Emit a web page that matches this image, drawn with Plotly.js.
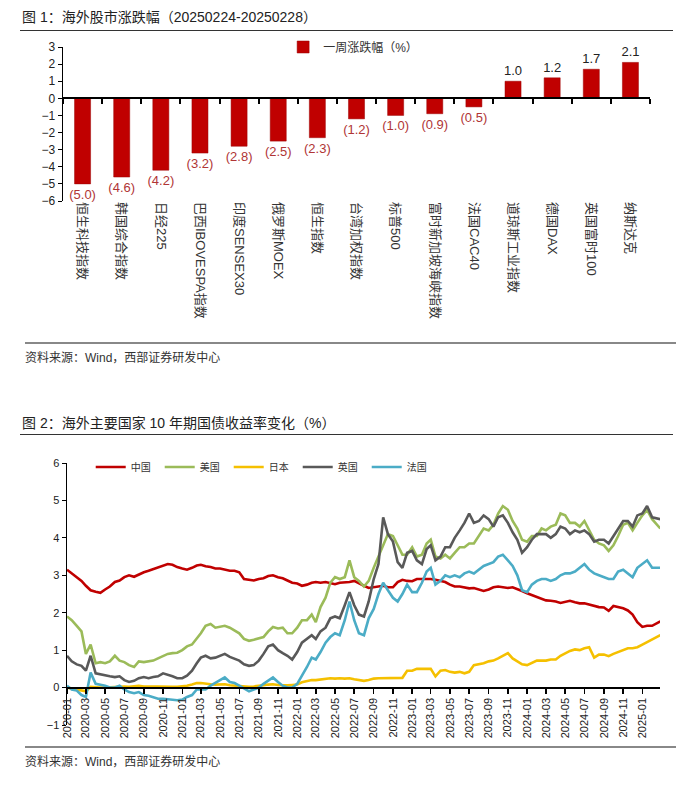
<!DOCTYPE html>
<html><head><meta charset="utf-8">
<script src="https://cdn.plot.ly/plotly-3.0.1.min.js"></script>
<style>
body{margin:0;background:#fff;font-family:"Liberation Sans","Noto Sans CJK SC",sans-serif;}
#wrap{position:relative;width:700px;height:796px;overflow:hidden;}
.t{position:absolute;left:22px;font-size:14px;color:#222;white-space:nowrap;z-index:5;}
.rule{position:absolute;left:20px;width:653px;height:0;border-top:1.5px solid #333;}
.src{position:absolute;left:25px;font-size:12px;color:#333;white-space:nowrap;}
.srule{position:absolute;left:25px;width:651px;height:0;border-top:2px solid #888;}
#c1{position:absolute;left:0;top:20px;width:700px;height:320px;}
#c2{position:absolute;left:0;top:440px;width:700px;height:300px;}
</style></head>
<body><div id="wrap">
<div class="t" style="top:6px;">图 1：海外股市涨跌幅（20250224-20250228）</div>
<div class="rule" style="top:30px;"></div>
<div id="c1"></div>
<div class="srule" style="top:342px;"></div>
<div class="src" style="top:348px;">资料来源：Wind，西部证券研发中心</div>
<div class="t" style="top:412px;">图 2：海外主要国家 10 年期国债收益率变化（%）</div>
<div class="rule" style="top:434px;"></div>
<div id="c2"></div>
<div class="srule" style="top:746px;"></div>
<div class="src" style="top:752px;">资料来源：Wind，西部证券研发中心</div>
</div>
<script>
// ---------- Chart 1 data ----------
const indexNames = ["恒生科技指数","韩国综合指数","日经225","巴西IBOVESPA指数","印度SENSEX30","俄罗斯MOEX","恒生指数","台湾加权指数","标普500","富时新加坡海峡指数","法国CAC40","道琼斯工业指数","德国DAX","英国富时100","纳斯达克"];
const weeklyChange = [-5.0,-4.6,-4.2,-3.2,-2.8,-2.5,-2.3,-1.2,-1.0,-0.9,-0.5,1.0,1.2,1.7,2.1];
const seriesName1 = "一周涨跌幅（%）";

// ---------- Chart 2 data (semi-monthly, 2020-01 .. 2025-02) ----------
const firstMonth = [2020, 1];
const monthCount = 62;
const china = [
3.15,3.05,2.95,2.85,2.72,2.60,2.56,2.53,2.62,2.70,2.82,2.86,2.95,3.00,2.96,3.02,3.08,3.12,3.16,3.20,3.24,3.30,3.28,3.22,
3.18,3.15,3.20,3.26,3.28,3.24,3.22,3.18,3.18,3.15,3.12,3.12,3.08,2.90,2.88,2.86,2.90,2.92,2.98,3.00,2.95,2.92,2.86,2.80,
2.78,2.72,2.75,2.80,2.82,2.80,2.82,2.78,2.76,2.80,2.80,2.82,2.85,2.78,2.72,2.66,2.68,2.70,2.72,2.68,2.68,2.82,2.88,2.85,
2.84,2.90,2.90,2.92,2.90,2.88,2.85,2.82,2.75,2.70,2.70,2.68,2.65,2.66,2.62,2.58,2.62,2.68,2.70,2.68,2.66,2.68,2.62,2.58,
2.52,2.47,2.43,2.38,2.33,2.32,2.30,2.26,2.30,2.32,2.28,2.25,2.25,2.22,2.18,2.15,2.14,2.05,2.18,2.15,2.12,2.06,1.95,1.75,
1.62,1.65,1.65,1.77];
const usa = [
1.90,1.80,1.65,1.50,0.90,1.15,0.65,0.68,0.65,0.70,0.85,0.72,0.68,0.60,0.55,0.70,0.68,0.70,0.72,0.78,0.85,0.90,0.92,0.93,
1.00,1.10,1.15,1.30,1.45,1.65,1.70,1.60,1.62,1.65,1.60,1.52,1.45,1.30,1.25,1.28,1.32,1.35,1.50,1.62,1.58,1.60,1.45,1.45,
1.60,1.80,1.80,1.95,1.75,2.15,2.40,2.80,2.95,2.90,2.95,3.40,2.95,2.85,2.70,2.85,3.20,3.50,3.80,4.10,4.05,3.80,3.55,3.55,
3.75,3.50,3.55,3.85,3.95,3.50,3.45,3.55,3.45,3.60,3.75,3.75,3.85,3.85,4.05,4.25,4.20,4.35,4.65,4.85,4.75,4.45,4.25,3.95,
3.90,4.05,4.05,4.25,4.20,4.30,4.35,4.65,4.60,4.40,4.40,4.30,4.45,4.20,3.95,3.85,3.80,3.65,3.80,4.05,4.35,4.40,4.20,4.40,
4.60,4.75,4.50,4.25];
const japan = [
0.00,-0.02,-0.05,-0.08,-0.10,0.02,0.00,0.00,0.00,0.01,0.02,0.03,0.03,0.02,0.03,0.05,0.03,0.02,0.03,0.03,0.02,0.02,0.02,0.02,
0.03,0.05,0.08,0.12,0.12,0.10,0.09,0.08,0.08,0.09,0.06,0.05,0.03,0.02,0.02,0.03,0.04,0.06,0.08,0.09,0.07,0.06,0.06,0.07,
0.08,0.14,0.18,0.20,0.20,0.22,0.24,0.25,0.24,0.25,0.24,0.25,0.22,0.20,0.18,0.20,0.24,0.25,0.25,0.25,0.25,0.25,0.26,0.45,
0.45,0.50,0.50,0.50,0.50,0.30,0.45,0.47,0.42,0.40,0.42,0.38,0.42,0.60,0.62,0.65,0.70,0.72,0.78,0.85,0.92,0.78,0.70,0.62,
0.60,0.65,0.72,0.72,0.72,0.75,0.75,0.85,0.92,0.98,1.02,1.00,1.05,1.08,0.80,0.88,0.88,0.84,0.90,0.95,1.00,1.05,1.05,1.08,
1.15,1.22,1.30,1.40];
const uk = [
0.85,0.70,0.62,0.58,0.45,0.85,0.38,0.35,0.32,0.30,0.28,0.30,0.20,0.15,0.18,0.25,0.28,0.25,0.28,0.30,0.38,0.35,0.30,0.25,
0.25,0.32,0.45,0.65,0.80,0.85,0.78,0.80,0.85,0.90,0.82,0.78,0.72,0.62,0.58,0.60,0.72,0.90,1.10,1.15,1.00,0.92,0.85,0.75,
0.95,1.20,1.30,1.40,1.30,1.50,1.60,1.85,1.90,1.85,2.20,2.55,2.20,1.95,1.90,2.30,2.90,3.30,4.55,4.10,3.90,3.35,3.20,3.60,
3.65,3.40,3.30,3.70,3.80,3.40,3.50,3.75,3.75,4.00,4.20,4.40,4.65,4.40,4.45,4.60,4.50,4.30,4.55,4.60,4.40,4.15,3.95,3.60,
3.75,3.95,4.10,4.10,4.10,4.00,4.10,4.30,4.25,4.10,4.20,4.15,4.20,4.10,3.90,3.95,3.95,3.85,4.05,4.25,4.45,4.45,4.30,4.60,
4.65,4.85,4.55,4.50];
const france = [
0.05,-0.05,-0.08,-0.20,-0.25,0.40,0.10,0.08,0.05,0.00,0.00,0.05,-0.05,-0.12,-0.15,-0.12,-0.20,-0.22,-0.25,-0.30,-0.30,-0.32,-0.33,-0.34,
-0.32,-0.25,-0.20,-0.05,-0.05,-0.05,0.05,0.12,0.20,0.27,0.15,0.12,0.05,-0.02,-0.10,-0.05,0.00,0.10,0.18,0.27,0.15,0.05,0.00,0.00,
0.10,0.30,0.55,0.80,0.75,0.95,1.20,1.35,1.45,1.40,1.80,2.30,1.80,1.45,1.40,1.85,2.10,2.50,2.80,2.60,2.40,2.30,2.50,2.75,
2.55,2.55,2.80,3.10,3.20,2.75,2.85,3.00,2.95,3.00,2.95,3.05,3.10,3.05,3.15,3.25,3.30,3.35,3.50,3.55,3.40,3.25,3.00,2.60,
2.55,2.75,2.85,2.90,2.90,2.85,2.90,3.00,3.05,3.05,3.10,3.20,3.30,3.15,3.05,3.00,2.95,2.90,2.90,3.10,3.15,3.05,2.95,3.20,
3.30,3.40,3.20,3.20];
const seriesNames2 = ["中国","美国","日本","英国","法国"];
const seriesColors2 = ["#c00000","#9bbb59","#f5c000","#595959","#4bacc6"];

// build date positions
const dates = [];
for (let k = 0; k < monthCount; k++) {
  const y = firstMonth[0] + Math.floor((firstMonth[1]-1+k)/12);
  const m = ((firstMonth[1]-1+k)%12)+1;
  const mm = (m<10?"0":"")+m;
  dates.push(y+"-"+mm+"-01");
  dates.push(y+"-"+mm+"-16");
}
dates[dates.length-1] = "2025-02-27";

const fam = '"Liberation Sans","Noto Sans CJK SC",Arial,sans-serif';

// ---------- Chart 1 ----------
const labels1 = weeklyChange.map(v => v < 0 ? "(" + Math.abs(v).toFixed(1) + ")" : v.toFixed(1));
const labelColors1 = weeklyChange.map(v => v < 0 ? "#b03535" : "#222");
const bar = {
  type: "bar", x: indexNames, y: weeklyChange, name: seriesName1,
  marker: {color: "#c00000", line: {color: "#9a0000", width: 0.5}},
  text: labels1, textposition: "outside", cliponaxis: false, constraintext: "none",
  textfont: {size: 13, color: labelColors1, family: fam},
  showlegend: true, hoverinfo: "x+y"
};
const ghost = {
  type: "scatter", mode: "markers", x: indexNames, y: weeklyChange, xaxis: "x2",
  marker: {opacity: 0, size: 1}, showlegend: false, hoverinfo: "skip"
};
const layout1 = {
  width: 700, height: 320, margin: {l: 63, r: 50, t: 27, b: 139},
  paper_bgcolor: "rgba(0,0,0,0)", plot_bgcolor: "rgba(0,0,0,0)",
  font: {family: fam, color: "#222", size: 12},
  bargap: 0.59,
  showlegend: true,
  legend: {x: 0.375, y: 1.0, xanchor: "left", yanchor: "middle", font: {size: 12, color: "#333"}, bgcolor: "rgba(0,0,0,0)", itemwidth: 30},
  xaxis: {type: "category", range: [-0.5, 14.5], showline: false, ticks: "", tickangle: 90, showgrid: false, zeroline: false,
          tickfont: {size: 13, color: "#333"}, automargin: false},
  xaxis2: {type: "category", overlaying: "x", matches: "x", anchor: "free", position: 6/9, side: "bottom",
           showline: true, linecolor: "#000", linewidth: 2, ticks: "outside", tickson: "boundaries",
           ticklen: 5, tickwidth: 2, tickcolor: "#000", showticklabels: false, showgrid: false, zeroline: false},
  yaxis: {range: [-6, 3], dtick: 1, showline: true, linecolor: "#000", linewidth: 1.5, ticks: "outside",
          ticklen: 4, tickcolor: "#000", showgrid: false, zeroline: false, tickfont: {size: 12, color: "#222"}, automargin: false}
};
Plotly.newPlot("c1", [bar, ghost], layout1, {displayModeBar: false, staticPlot: true});

// ---------- Chart 2 ----------
const seriesData2 = [china, usa, japan, uk, france];
const traces2 = seriesData2.map((vals, i) => ({
  type: "scatter", mode: "lines", x: dates, y: vals, name: seriesNames2[i],
  line: {color: seriesColors2[i], width: 2.6}
}));
const layout2 = {
  width: 700, height: 300, margin: {l: 67, r: 40, t: 18, b: 15},
  paper_bgcolor: "rgba(0,0,0,0)", plot_bgcolor: "rgba(0,0,0,0)",
  font: {family: fam, color: "#222", size: 11},
  showlegend: true,
  legend: {orientation: "h", x: 0.04, y: 0.985, xanchor: "left", yanchor: "middle",
           font: {size: 10, color: "#333"}, bgcolor: "rgba(0,0,0,0)",
           entrywidth: 24, entrywidthmode: "pixels", itemwidth: 30},
  xaxis: {type: "date", range: ["2020-01-01", "2025-02-26"], tick0: "2020-01-01", dtick: "M2",
          tickformat: "%Y-%m", tickangle: -90, anchor: "free", position: 1/7,
          showline: true, linecolor: "#000", linewidth: 2, ticks: "outside", ticklen: 5, tickwidth: 1.5,
          tickcolor: "#000", showgrid: false, zeroline: false, tickfont: {size: 11, color: "#222"}, automargin: false},
  yaxis: {range: [-1, 6], dtick: 1, showline: true, linecolor: "#000", linewidth: 1.5, ticks: "outside",
          ticklen: 4, tickcolor: "#000", showgrid: false, zeroline: false, tickfont: {size: 11, color: "#222"}, automargin: false}
};
Plotly.newPlot("c2", traces2, layout2, {displayModeBar: false, staticPlot: true});
</script>
</body></html>
